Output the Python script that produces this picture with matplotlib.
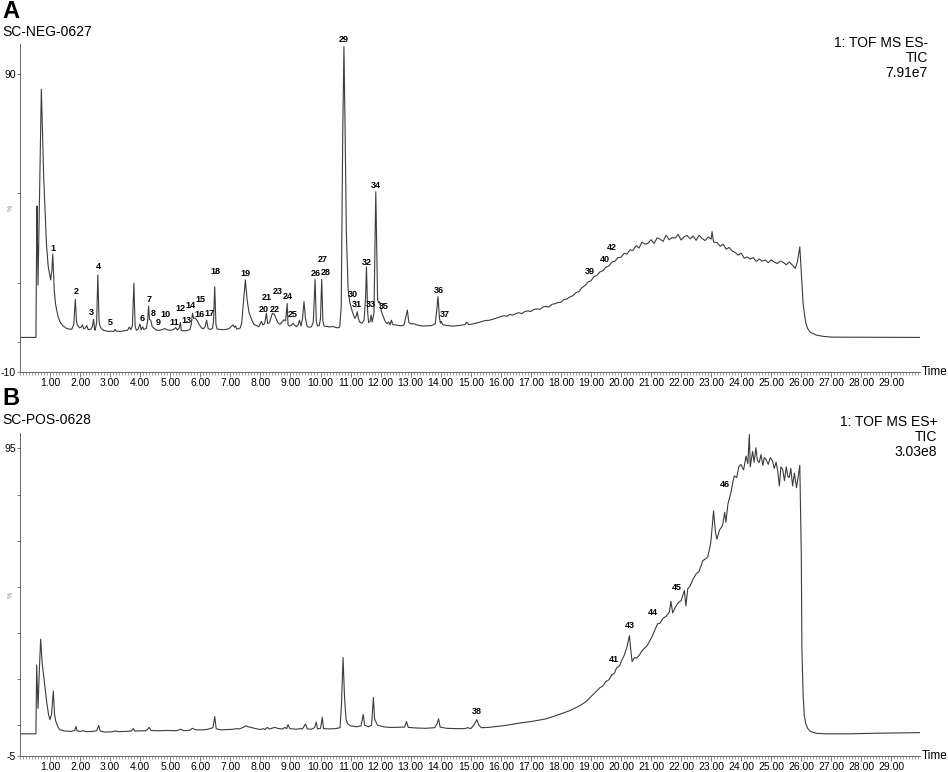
import matplotlib
matplotlib.use("Agg")
import matplotlib.pyplot as plt
from matplotlib.ticker import FixedLocator, FixedFormatter, MultipleLocator

plt.rcParams['font.family'] = ['Liberation Sans', 'DejaVu Sans']

# ---- panel A : SC-NEG-0627, TIC (time min, intensity %) ----
neg_trace = [
    (0.00, 1.6), (0.53, 1.6), (0.55, 30.0), (0.566, 45.7), (0.59, 25.0), (0.60, 19.2),
    (0.65, 50.0), (0.71, 84.9), (0.75, 70.0), (0.79, 55.0), (0.83, 45.5), (0.88, 33.0),
    (0.94, 25.3), (1.02, 20.9), (1.06, 24.0), (1.09, 29.6), (1.12, 22.0), (1.14, 17.5),
    (1.18, 13.0), (1.22, 10.8), (1.27, 8.5), (1.33, 6.9), (1.42, 5.6), (1.55, 4.6),
    (1.65, 4.4), (1.72, 4.3), (1.79, 6.0), (1.84, 14.4), (1.88, 7.0), (1.91, 5.8),
    (1.98, 4.8), (2.05, 5.2), (2.08, 5.8), (2.12, 4.5), (2.18, 4.8), (2.22, 5.6),
    (2.27, 4.2), (2.36, 4.4), (2.41, 5.3), (2.45, 7.7), (2.48, 4.5), (2.50, 4.0),
    (2.55, 6.5), (2.59, 22.6), (2.63, 7.5), (2.65, 5.8), (2.71, 4.5), (2.77, 4.0),
    (2.85, 3.8), (2.95, 3.6), (3.05, 3.7), (3.12, 3.6), (3.16, 4.3), (3.21, 3.7),
    (3.30, 3.6), (3.40, 3.7), (3.50, 3.9), (3.58, 4.0), (3.64, 5.1), (3.69, 4.2),
    (3.74, 5.5), (3.79, 19.8), (3.83, 5.5), (3.87, 4.0), (3.93, 4.4), (3.99, 6.1),
    (4.03, 4.2), (4.08, 5.2), (4.12, 4.3), (4.20, 4.6), (4.24, 6.5), (4.28, 12.1),
    (4.31, 7.6), (4.35, 7.4), (4.40, 5.2), (4.49, 4.4), (4.56, 4.0), (4.65, 4.0),
    (4.74, 4.2), (4.82, 4.6), (4.90, 4.1), (5.00, 4.0), (5.10, 4.2), (5.18, 4.9),
    (5.24, 4.1), (5.30, 4.8), (5.34, 6.6), (5.37, 3.9), (5.45, 3.8), (5.55, 3.9),
    (5.65, 4.2), (5.70, 6.0), (5.74, 9.7), (5.78, 8.0), (5.83, 8.1), (5.90, 7.2),
    (5.96, 6.0), (6.04, 4.8), (6.10, 4.5), (6.16, 5.2), (6.21, 7.4), (6.26, 4.6),
    (6.32, 4.3), (6.40, 4.5), (6.44, 7.0), (6.48, 18.6), (6.52, 6.0), (6.56, 4.4),
    (6.65, 4.3), (6.80, 4.2), (6.95, 4.5), (7.03, 5.3), (7.09, 5.8), (7.14, 5.0),
    (7.17, 5.5), (7.21, 4.4), (7.27, 4.5), (7.33, 4.8), (7.38, 6.5), (7.44, 14.0),
    (7.50, 20.9), (7.56, 14.0), (7.62, 10.0), (7.70, 7.8), (7.78, 6.0), (7.86, 5.6),
    (7.95, 5.2), (8.03, 7.0), (8.08, 5.8), (8.14, 6.2), (8.20, 9.7), (8.24, 6.3),
    (8.30, 6.5), (8.36, 8.5), (8.40, 9.7), (8.46, 9.4), (8.52, 8.0), (8.58, 6.6),
    (8.65, 6.0), (8.72, 6.7), (8.78, 7.5), (8.84, 7.2), (8.89, 13.0), (8.92, 5.8),
    (8.98, 5.4), (9.04, 5.8), (9.09, 6.3), (9.15, 5.6), (9.20, 5.2), (9.26, 5.9),
    (9.30, 7.4), (9.35, 5.5), (9.40, 7.8), (9.45, 13.6), (9.50, 8.0), (9.55, 5.4),
    (9.62, 5.0), (9.70, 5.2), (9.76, 6.8), (9.82, 21.1), (9.86, 7.0), (9.90, 5.4),
    (9.96, 5.6), (10.00, 8.0), (10.04, 21.1), (10.08, 7.0), (10.12, 5.4), (10.20, 5.3),
    (10.30, 5.1), (10.40, 5.3), (10.50, 5.0), (10.58, 4.8), (10.64, 5.1), (10.69, 12.0),
    (10.74, 70.0), (10.78, 99.2), (10.82, 70.0), (10.86, 36.6), (10.92, 17.5), (10.97, 13.6),
    (11.01, 12.0), (11.06, 10.2), (11.14, 8.0), (11.19, 8.8), (11.22, 10.2), (11.26, 8.0),
    (11.30, 6.8), (11.38, 6.4), (11.45, 7.4), (11.50, 15.0), (11.53, 25.3), (11.57, 10.0),
    (11.60, 6.6), (11.65, 7.0), (11.68, 9.1), (11.72, 6.8), (11.78, 10.0), (11.84, 50.5),
    (11.88, 25.0), (11.90, 14.2), (11.94, 13.2), (11.97, 13.6), (12.03, 10.2), (12.10, 8.3),
    (12.16, 6.8), (12.22, 6.2), (12.27, 6.8), (12.32, 5.8), (12.36, 7.4), (12.41, 5.9),
    (12.50, 5.8), (12.60, 5.6), (12.70, 5.5), (12.78, 5.8), (12.84, 8.5), (12.89, 10.8),
    (12.94, 6.6), (13.00, 6.2), (13.10, 6.2), (13.25, 5.7), (13.40, 5.4), (13.55, 5.5),
    (13.70, 5.6), (13.82, 6.2), (13.87, 11.0), (13.91, 15.3), (13.96, 8.0), (13.99, 6.4),
    (14.02, 7.0), (14.06, 5.9), (14.20, 5.6), (14.40, 5.4), (14.60, 5.6), (14.80, 5.9),
    (14.87, 6.7), (14.93, 5.9), (15.10, 6.2), (15.30, 6.7), (15.45, 7.2), (15.63, 7.4),
    (15.80, 7.9), (16.00, 8.6), (16.10, 8.9), (16.20, 8.7), (16.30, 9.3), (16.40, 9.1),
    (16.50, 9.6), (16.60, 9.9), (16.70, 9.6), (16.80, 10.3), (16.90, 10.5), (17.00, 10.3),
    (17.10, 11.0), (17.20, 11.2), (17.30, 11.0), (17.40, 11.8), (17.50, 12.0), (17.60, 11.8),
    (17.70, 12.7), (17.80, 12.9), (17.90, 13.3), (18.00, 13.4), (18.10, 14.3), (18.20, 14.5),
    (18.30, 15.2), (18.40, 15.6), (18.50, 16.6), (18.60, 17.0), (18.70, 18.3), (18.80, 19.0),
    (18.90, 20.2), (19.00, 20.6), (19.10, 22.0), (19.20, 22.4), (19.30, 23.6), (19.40, 24.0),
    (19.50, 25.2), (19.60, 25.6), (19.70, 26.9), (19.80, 27.2), (19.90, 28.4), (20.00, 28.5),
    (20.10, 29.8), (20.20, 29.6), (20.30, 31.0), (20.40, 30.8), (20.50, 32.4), (20.60, 31.6),
    (20.70, 33.6), (20.80, 32.9), (20.90, 33.2), (21.00, 34.4), (21.10, 33.1), (21.20, 35.0),
    (21.30, 34.6), (21.40, 33.8), (21.50, 35.9), (21.60, 34.4), (21.70, 35.1), (21.80, 34.9),
    (21.90, 36.2), (22.00, 34.3), (22.10, 35.4), (22.20, 35.8), (22.30, 34.7), (22.40, 35.6),
    (22.50, 34.2), (22.60, 35.9), (22.70, 34.8), (22.80, 34.1), (22.90, 35.3), (23.00, 34.6),
    (23.03, 37.1), (23.08, 33.6), (23.20, 33.4), (23.30, 32.2), (23.40, 32.9), (23.50, 31.2),
    (23.60, 31.8), (23.70, 30.6), (23.80, 30.1), (23.90, 29.2), (24.00, 29.9), (24.10, 28.2),
    (24.20, 28.6), (24.30, 27.9), (24.40, 28.4), (24.50, 27.1), (24.60, 27.9), (24.70, 27.2),
    (24.80, 27.6), (24.90, 26.7), (25.00, 27.6), (25.10, 26.9), (25.20, 26.4), (25.30, 27.2),
    (25.40, 26.8), (25.50, 26.0), (25.60, 26.9), (25.70, 25.9), (25.80, 24.8), (25.87, 27.0),
    (25.95, 32.0), (26.02, 19.5), (26.06, 13.0), (26.10, 9.7), (26.15, 6.5), (26.21, 4.6),
    (26.30, 3.3), (26.50, 2.4), (26.70, 2.0), (27.00, 1.7), (29.95, 1.6),
]

neg_peaks = [
    ("1", 1.11, 31.5), ("2", 1.86, 17.0), ("3", 2.37, 9.9), ("4", 2.59, 25.3),
    ("5", 3.00, 6.6), ("6", 4.08, 8.0), ("7", 4.30, 14.2), ("8", 4.44, 9.7),
    ("9", 4.60, 6.6), ("10", 4.85, 9.4), ("11", 5.14, 6.6), ("12", 5.35, 11.4),
    ("13", 5.54, 7.4), ("14", 5.68, 12.3), ("15", 6.02, 14.2), ("16", 5.96, 9.3),
    ("17", 6.31, 9.5), ("18", 6.50, 23.7), ("19", 7.51, 23.1), ("20", 8.10, 11.0),
    ("21", 8.21, 15.0), ("22", 8.47, 11.1), ("23", 8.58, 17.0), ("24", 8.90, 15.3),
    ("25", 9.09, 9.3), ("26", 9.84, 23.1), ("27", 10.09, 27.8), ("28", 10.16, 23.3),
    ("29", 10.78, 101.6), ("30", 11.08, 16.1), ("31", 11.21, 12.7), ("32", 11.55, 26.9),
    ("33", 11.69, 12.7), ("34", 11.84, 52.5), ("35", 12.10, 12.1), ("36", 13.94, 17.4),
    ("37", 14.14, 9.2), ("39", 18.95, 23.7), ("40", 19.45, 27.9), ("42", 19.69, 31.7),
]

# ---- panel B : SC-POS-0628, TIC ----
pos_trace = [
    (0.00, 2.2), (0.53, 2.2), (0.555, 24.6), (0.60, 10.5), (0.64, 22.0), (0.687, 33.0),
    (0.74, 25.0), (0.81, 19.2), (0.886, 12.7), (0.95, 8.5), (0.997, 6.8), (1.05, 8.5),
    (1.108, 16.1), (1.15, 8.5), (1.19, 6.3), (1.26, 4.5), (1.33, 3.5), (1.50, 3.1),
    (1.70, 3.0), (1.82, 3.3), (1.86, 4.6), (1.90, 3.2), (2.00, 3.0), (2.10, 3.2),
    (2.20, 2.9), (2.40, 3.0), (2.55, 3.2), (2.62, 4.9), (2.67, 3.1), (2.80, 2.8),
    (3.00, 2.8), (3.16, 3.1), (3.30, 2.9), (3.50, 3.0), (3.70, 3.1), (3.77, 3.9),
    (3.82, 3.1), (4.00, 3.2), (4.20, 3.2), (4.30, 4.3), (4.36, 3.3), (4.60, 3.2),
    (4.90, 3.3), (5.20, 3.2), (5.35, 3.7), (5.45, 3.2), (5.65, 3.4), (5.74, 4.0),
    (5.85, 3.5), (6.10, 3.5), (6.25, 3.7), (6.42, 4.2), (6.48, 7.8), (6.53, 3.8),
    (6.70, 3.5), (6.90, 3.6), (7.10, 3.7), (7.20, 3.9), (7.30, 3.8), (7.45, 4.4),
    (7.50, 4.8), (7.60, 4.5), (7.80, 4.0), (8.00, 3.6), (8.10, 3.9), (8.15, 3.6),
    (8.23, 4.3), (8.30, 3.8), (8.48, 4.3), (8.60, 3.9), (8.75, 3.8), (8.81, 4.3),
    (8.87, 3.9), (8.92, 5.2), (8.98, 3.9), (9.20, 3.7), (9.31, 3.9), (9.40, 3.8),
    (9.50, 5.4), (9.56, 3.8), (9.70, 3.7), (9.80, 4.2), (9.86, 6.0), (9.90, 3.8),
    (10.00, 4.0), (10.06, 7.6), (10.10, 3.9), (10.30, 3.8), (10.50, 3.9), (10.65, 4.2),
    (10.70, 12.0), (10.75, 27.0), (10.80, 14.0), (10.85, 7.0), (10.90, 5.5), (11.00, 4.8),
    (11.20, 4.5), (11.35, 4.8), (11.42, 8.5), (11.47, 5.0), (11.60, 4.5), (11.70, 5.0),
    (11.76, 14.0), (11.80, 7.0), (11.90, 5.0), (12.10, 4.5), (12.30, 4.3), (12.50, 4.3),
    (12.80, 4.4), (12.86, 6.2), (12.92, 4.3), (13.20, 4.1), (13.50, 4.0), (13.80, 4.2),
    (13.88, 5.5), (13.93, 7.1), (13.98, 4.4), (14.20, 4.0), (14.50, 3.9), (14.80, 3.9),
    (14.90, 4.2), (15.00, 3.9), (15.10, 5.0), (15.20, 6.8), (15.27, 5.0), (15.35, 4.2),
    (15.60, 4.3), (15.85, 4.6), (16.20, 5.0), (16.62, 5.7), (17.00, 6.2), (17.30, 6.7),
    (17.51, 7.1), (17.80, 8.0), (18.05, 8.9), (18.28, 9.7), (18.50, 10.7), (18.70, 11.8),
    (18.84, 12.7), (19.00, 14.3), (19.17, 15.9), (19.30, 17.2), (19.40, 17.8), (19.50, 19.2),
    (19.60, 19.8), (19.70, 21.5), (19.78, 21.9), (19.85, 23.6), (19.95, 24.3), (20.02, 26.0),
    (20.11, 27.8), (20.20, 30.5), (20.28, 34.1), (20.33, 29.0), (20.37, 25.7), (20.45, 27.0),
    (20.52, 26.8), (20.61, 27.8), (20.70, 29.2), (20.80, 30.2), (20.87, 30.9), (20.94, 32.1),
    (21.05, 34.2), (21.15, 36.5), (21.22, 38.0), (21.30, 38.2), (21.40, 39.8), (21.50, 40.4),
    (21.61, 41.8), (21.66, 45.3), (21.72, 41.5), (21.80, 43.2), (21.90, 44.8), (22.00, 45.5),
    (22.11, 48.8), (22.16, 43.8), (22.22, 49.3), (22.30, 50.3), (22.40, 52.5), (22.50, 54.2),
    (22.60, 55.0), (22.72, 58.5), (22.80, 59.0), (22.88, 59.6), (22.95, 62.5), (22.99, 64.5),
    (23.04, 70.0), (23.08, 74.7), (23.14, 68.0), (23.19, 65.5), (23.28, 68.5), (23.38, 69.9),
    (23.45, 74.2), (23.49, 71.0), (23.56, 77.0), (23.66, 80.7), (23.72, 84.0), (23.77, 86.0),
    (23.85, 85.5), (23.92, 89.0), (23.99, 89.8), (24.08, 88.0), (24.16, 92.5), (24.22, 90.0),
    (24.27, 99.5), (24.30, 89.0), (24.38, 94.0), (24.43, 90.5), (24.49, 95.2), (24.54, 91.0),
    (24.60, 90.4), (24.66, 93.0), (24.72, 89.5), (24.77, 92.0), (24.82, 91.5), (24.90, 89.8),
    (24.97, 92.0), (25.04, 90.9), (25.10, 88.5), (25.16, 90.5), (25.21, 88.0), (25.27, 82.8),
    (25.32, 89.0), (25.38, 88.2), (25.44, 84.5), (25.50, 89.0), (25.55, 86.0), (25.60, 85.5),
    (25.65, 88.5), (25.71, 82.8), (25.77, 87.0), (25.84, 82.2), (25.90, 86.0), (25.95, 89.5),
    (26.00, 60.0), (26.02, 30.0), (26.06, 15.0), (26.10, 8.0), (26.15, 5.5), (26.21, 4.0),
    (26.30, 3.0), (26.50, 2.4), (26.80, 2.2), (27.50, 2.2), (28.50, 2.4), (29.95, 2.6),
]

pos_peaks = [
    ("38", 15.21, 9.5), ("41", 19.75, 26.5), ("43", 20.29, 37.3),
    ("44", 21.05, 41.5), ("45", 21.85, 49.7), ("46", 23.46, 83.3),
]

time_ticks = list(range(1, 30))
time_labels = ["%.2f" % t for t in time_ticks]

fig = plt.figure(figsize=(9.48, 7.72), dpi=100)


def draw_panel(rect, trace, peaks, ylim, yticks, ylabels):
    ax = fig.add_axes(rect)
    t = [p[0] for p in trace]
    v = [p[1] for p in trace]
    ax.plot(t, v, color='#3c3c3c', lw=0.8)
    for lab, x, y in peaks:
        ax.text(x, y, lab, ha='center', va='center', fontsize=6.5, fontweight='bold')
    ax.set_xlim(0, 29.95)
    ax.set_ylim(*ylim)
    for s in ['top', 'right']:
        ax.spines[s].set_visible(False)
    for s in ['left', 'bottom']:
        ax.spines[s].set_color('#666666')
        ax.spines[s].set_linewidth(0.7)
    ax.xaxis.set_major_locator(FixedLocator(time_ticks))
    ax.xaxis.set_major_formatter(FixedFormatter(time_labels))
    ax.xaxis.set_minor_locator(MultipleLocator(0.1))
    ax.tick_params(axis='x', which='major', length=3.5, width=0.6, color='#666666',
                   labelsize=7.5, pad=0.5)
    ax.tick_params(axis='x', which='minor', length=2, width=0.5, color='#777777')
    ax.yaxis.set_major_locator(FixedLocator(yticks))
    ax.yaxis.set_major_formatter(FixedFormatter(ylabels))
    ax.tick_params(axis='y', which='major', length=2.5, width=0.6, color='#666666',
                   labelsize=7.5, pad=0.5)
    ax.annotate('Time', xy=(1, 0), xycoords='axes fraction', xytext=(1.5, 0),
                textcoords='offset points', ha='left', va='center', fontsize=8.5)
    ax.text(-0.006, 0.5, '%', transform=ax.transAxes, rotation=90, fontsize=5,
            color='#888888', ha='right', va='center')
    return ax


draw_panel([20 / 948, 1 - 372 / 772, 900 / 948, 327.8 / 772], neg_trace, neg_peaks,
           (-10, 100), [-10, 0, 20, 50, 90], ['-10', '', '', '', '90'])
draw_panel([20 / 948, 1 - 756 / 772, 900 / 948, 323 / 772], pos_trace, pos_peaks,
           (-5, 100), [-5, 5, 20, 35, 50, 65, 80, 95],
           ['-5', '', '', '', '', '', '', '95'])

# panel titles and acquisition info
fig.text(2 / 948, 1 - 12 / 772, 'A', fontsize=17, fontweight='bold', va='center')
fig.text(2 / 948, 1 - 32 / 772, 'SC-NEG-0627', fontsize=10, va='center')
fig.text(928 / 948, 1 - 58 / 772, '1: TOF MS ES-\nTIC\n7.91e7', fontsize=10,
         ha='right', va='center', linespacing=1.05)
fig.text(2 / 948, 1 - 398 / 772, 'B', fontsize=17, fontweight='bold', va='center')
fig.text(2 / 948, 1 - 420 / 772, 'SC-POS-0628', fontsize=10, va='center')
fig.text(937 / 948, 1 - 437 / 772, '1: TOF MS ES+\nTIC\n3.03e8', fontsize=10,
         ha='right', va='center', linespacing=1.05)

fig.savefig('out.png', dpi=100)
